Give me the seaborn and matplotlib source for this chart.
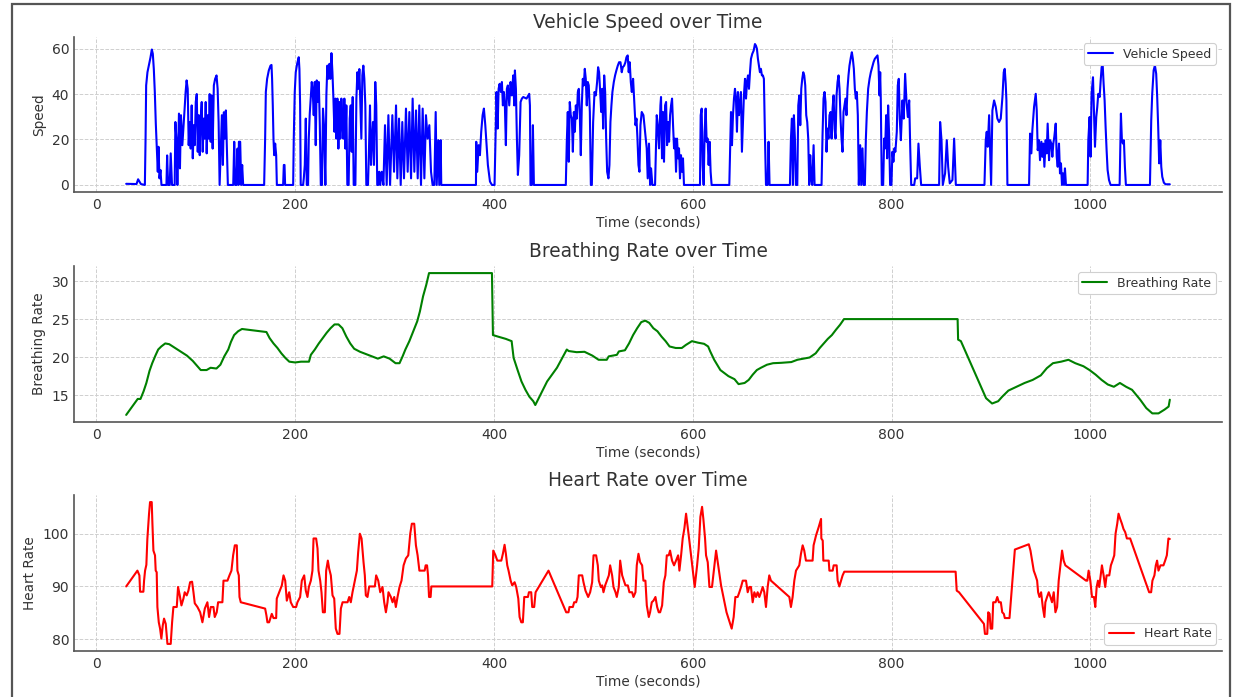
import matplotlib
matplotlib.use("Agg")
import matplotlib.pyplot as plt
from matplotlib.patches import Rectangle
import numpy as np
import seaborn as sns

# (time in seconds, value) samples for each recorded signal
speed_points = [
    (30, 0.5), (40.4, 0.4), (42, 2.5), (44.8, 0.4), (48.8, 0), (49.5, 20.4), (50.1, 43.8), (51.4, 49.6),
    (52.8, 52.5), (54.4, 56), (55.8, 59.6), (56.8, 57.7), (57.8, 51), (58.8, 40.9), (59.8, 27), (60.8, 16),
    (61.8, 5.8), (62.5, 16.8), (63.5, 2.9), (64.5, 6.6), (65.5, 0), (70.5, 0), (71.2, 13), (72.2, 0),
    (73.8, 0), (74.8, 13.9), (76.1, 0), (78.8, 0), (79.5, 27.7), (80.5, 20.4), (81.5, 0), (83.1, 31.4),
    (84.1, 7.3), (85.1, 30.7), (86.5, 17.5), (87.8, 26.3), (88.8, 33.6), (89.8, 40.9), (90.8, 46), (91.9, 42.3),
    (92.9, 17.5), (93.9, 27.7), (94.9, 16), (95.9, 35), (97, 11.7), (98, 26.3), (99, 17.5), (100, 36.5),
    (101, 40), (102, 14.6), (103, 30.7), (104, 13.1), (105, 29.2), (106, 36.5), (107, 14.6), (108, 29.2),
    (109, 20.4), (110, 36.5), (111, 13.9), (112, 30.7), (113, 20.4), (114, 40), (115, 19), (116, 39.4),
    (117, 16), (118.2, 43.8), (119.5, 46.7), (120.9, 48.2), (122, 42.3), (123, 27.7), (124, 0), (125.3, 17.5),
    (126.3, 30.7), (127.3, 8.8), (128.3, 32), (129.3, 20.4), (130.3, 32.8), (131.3, 16), (132.3, 0), (137.7, 0),
    (138.7, 19), (139.7, 0), (141, 0), (142, 16), (143, 0), (143.4, 19), (144.7, 19), (145.7, 0),
    (146.7, 8.8), (147.7, 0), (168.8, 0), (169.8, 20.4), (170.5, 40.9), (171.8, 46.7), (173.5, 50.4), (175.2, 52.5),
    (176.2, 52.8), (176.8, 46.7), (177.5, 35), (178.2, 20.4), (178.9, 13.1), (179.9, 18.2), (180.9, 13.1), (181.6, 0),
    (187.9, 0), (188.6, 8.8), (189.3, 8.8), (189.9, 0), (198, 0), (198.6, 20.4), (199.6, 40.9), (200.6, 49.6),
    (202, 53.3), (203.6, 56.2), (204.3, 51), (205, 35), (205.6, 0), (208, 0), (208.7, 2.9), (209.7, 8.8),
    (210.7, 29.2), (211.7, 0), (213, 0), (213.7, 20.4), (214.7, 31.4), (215.7, 38.7), (216.7, 45.3), (217.7, 40.9),
    (218.7, 30.7), (219.7, 45.3), (220.7, 17.5), (221.7, 46), (222.8, 36.5), (223.8, 45.3), (224.8, 26.3), (225.8, 0),
    (227, 0), (228, 33.6), (229, 26.3), (230.4, 0), (231.4, 39.4), (232.4, 52.5), (233.5, 46.7), (234.5, 53.3),
    (235.5, 46.7), (236.5, 58), (237.5, 49.6), (238.5, 38), (239.5, 23.4), (240.5, 38), (241.5, 20.4), (242.5, 38),
    (243.5, 16), (244.5, 36.5), (245.5, 20.4), (246.5, 38), (247.5, 27.7), (248.5, 20.4), (249.5, 38), (250.5, 16),
    (251.5, 35), (252.5, 0), (253.8, 0), (254.9, 29.2), (255.9, 35), (256.9, 14.6), (257.9, 38.7), (258.9, 0),
    (260.6, 0), (261.6, 38), (262.6, 49.6), (263.6, 42.3), (264.6, 51), (265.6, 35), (266.6, 20.4), (267.6, 48.2),
    (268.6, 52.5), (269.6, 46.7), (270.6, 35), (271.6, 0), (273.3, 0), (274.3, 16), (275.3, 35), (276.3, 8.8),
    (277.3, 20.4), (278.3, 27.7), (279.3, 8.8), (280.6, 45.3), (281.6, 35), (282.6, 0), (283.6, 0), (284.6, 5.8),
    (285.6, 0), (287.1, 5.8), (288.8, 0), (290.4, 26.3), (292.1, 0), (293.8, 30.7), (295.5, 0), (297.8, 30.7),
    (299.5, 5.8), (301.5, 35), (302.8, 2.9), (304.5, 29.2), (306.2, 0), (307.8, 27.7), (309.5, 2.9), (311.5, 33.6),
    (313.2, 5.8), (314.9, 32.1), (316.6, 2.9), (318.2, 38), (319.9, 5.8), (321.6, 32.8), (323.3, 2.9), (324.9, 35),
    (326.6, 0), (328.3, 33.6), (330, 2.9), (331.6, 30.7), (333.3, 20.4), (335, 26.3), (336.7, 5.8), (338.3, 0),
    (340, 0), (341.4, 32.1), (342.4, 0), (344, 19.7), (345, 0), (346.4, 19.7), (347, 0), (381.9, 0),
    (382.2, 19), (383.2, 5.8), (384.6, 17.5), (385.9, 13.1), (387.2, 23.4), (388.6, 30.7), (389.9, 33.6), (391.3, 26.3),
    (392.6, 17.5), (393.9, 8.8), (396, 1.5), (398, 0), (400.6, 0), (401.6, 20.4), (402.6, 40.9), (403.7, 24.8),
    (404.7, 42.3), (405.7, 44.5), (407, 40.9), (408, 45.3), (409, 35), (410, 40.9), (411, 35), (412, 17.5),
    (413, 42.3), (414, 43.8), (415.4, 35), (416.7, 45.3), (418, 39.4), (419.4, 48.2), (420.4, 35), (421.1, 50.4),
    (422.1, 42.3), (423.1, 20.4), (424.1, 4.4), (425.4, 13.1), (426.8, 36.5), (428.1, 38), (429.5, 38.7), (432.8, 38),
    (435.5, 40.1), (436.2, 35), (436.8, 0), (438.2, 0), (439.2, 26.3), (440.2, 0), (472.3, 0), (473.3, 19),
    (474.3, 32.1), (475.3, 10.2), (476.3, 36.5), (477.3, 30.7), (478.4, 29.2), (479.4, 14.6), (480.4, 32.1), (481.4, 23.4),
    (482.4, 35), (483.4, 29.2), (484.4, 40.9), (485.4, 42.3), (486.4, 30.7), (487.4, 13.1), (488.4, 35), (489.4, 46.7),
    (490.4, 43.8), (491.4, 51.1), (492.4, 46.7), (493.4, 35), (494.4, 45.3), (495.4, 43.8), (496.5, 32.1), (497.5, 0),
    (498.5, 0), (499.8, 27.7), (501.2, 40.9), (502.5, 39.4), (503.8, 45.3), (504.8, 51.8), (505.8, 49.6), (506.9, 40.9),
    (507.9, 32.1), (508.9, 42.3), (509.9, 24.8), (510.9, 48.2), (511.9, 40.9), (512.9, 20.4), (513.9, 5.8), (515.2, 2.9),
    (516.2, 8.8), (517.2, 27.7), (518.2, 35), (519.2, 40.9), (520.6, 45.3), (521.9, 48.2), (523.2, 50.4), (524.6, 52.5),
    (525.9, 54), (527.3, 54), (528.6, 49.6), (529.6, 51.8), (531, 52.5), (532.3, 54), (533.3, 56.2), (534.6, 57),
    (535.6, 49.6), (536.6, 54), (537.7, 45.3), (538.7, 40.9), (540, 46.7), (541.4, 35), (542.4, 26.3), (543.4, 29.2),
    (544.4, 20.4), (545.4, 8.8), (546.4, 5.8), (547.4, 26.3), (548.7, 32.1), (550.4, 30.7), (552, 23.4), (553.7, 16.1),
    (554.7, 2.9), (556, 18.2), (557.1, 0), (558.1, 7.3), (559.4, 0), (562.1, 0), (563.8, 30.7), (564.8, 26.3),
    (566.1, 16.1), (567.5, 35), (568.1, 38.7), (569.1, 11.7), (570.1, 32.1), (571.1, 10.2), (572.2, 35), (573.2, 36.5),
    (574.2, 17.5), (575.2, 27.7), (576.2, 19), (577.2, 30.7), (578.2, 35), (579.2, 38), (580.2, 26.3), (581.2, 16.1),
    (582.2, 20.4), (583.2, 5.8), (584.2, 20.4), (585.2, 11.7), (586.2, 16.1), (587.2, 2.9), (588.2, 13.1), (589.2, 5.8),
    (590.2, 11.7), (591.2, 0), (607.3, 0), (608, 30.7), (609, 33.6), (610, 8.8), (611, 0), (612, 23.4),
    (613, 33.6), (614, 19), (615, 20.4), (616, 8.8), (617, 19), (618, 5.8), (619, 0), (636.8, 0),
    (637.8, 19), (638.5, 32.1), (639.5, 17.5), (640.5, 30.7), (641.5, 38), (642.5, 42.3), (643.5, 38), (644.5, 23.4),
    (645.5, 40.9), (646.5, 30.7), (647.5, 35), (648.5, 40.9), (649.5, 14.6), (650.5, 27.7), (651.5, 39.4), (652.6, 46.7),
    (653.6, 38), (654.6, 45.3), (655.6, 48.2), (656.6, 42.3), (657.6, 49.6), (658.6, 55.5), (659.9, 57.7), (661.3, 59.1),
    (662.6, 62), (663.6, 61.3), (664.6, 59.9), (665.6, 55.5), (666.6, 52.5), (667.6, 49.6), (668.6, 51.1), (669.6, 48.2),
    (670.6, 48.2), (671.6, 46.7), (672.7, 20.4), (673.7, 0), (675.3, 0), (676.3, 19), (677.3, 0), (697.8, 0),
    (698.8, 20.4), (699.8, 29.2), (700.8, 0), (701.8, 30.7), (702.8, 20.4), (703.8, 0), (705.2, 0), (706.2, 35),
    (707.2, 39.4), (708.2, 26.3), (709.2, 42.3), (710.2, 46.7), (711.2, 49.6), (712.2, 48.2), (713.2, 43.8), (714.2, 30.7),
    (715.2, 27.7), (716.2, 20.4), (717.2, 0), (718.2, 13.1), (719.2, 2.9), (720.2, 0), (721.6, 17.5), (722.6, 0),
    (729.6, 0), (730.6, 21.9), (731.6, 38), (732.6, 40.9), (733.6, 36.5), (734.6, 14.6), (735.6, 24.8), (736.6, 20.4),
    (737.6, 30.7), (738.7, 32.1), (739.7, 20.4), (740.7, 33.6), (741.7, 39.4), (742.7, 24.8), (743.7, 20.4), (744.7, 39.4),
    (745.7, 45.3), (746.7, 48.2), (747.7, 42.3), (748.7, 29.2), (749.7, 20.4), (750.7, 14.6), (751.7, 32.1), (752.7, 35),
    (753.7, 38), (754.7, 30.7), (755.7, 42.3), (756.7, 48.2), (757.7, 52.5), (759.1, 56.2), (760.1, 58.4), (761.1, 55.5),
    (762.1, 51.1), (763.1, 42.3), (764.1, 38), (765.1, 40.9), (766.1, 30.7), (767.1, 0), (768.5, 17.5), (769.5, 0),
    (770.8, 16.1), (771.8, 0), (773.2, 0), (774.2, 20.4), (775.2, 32.1), (776.5, 42.3), (777.9, 46.7), (779.2, 49.6),
    (780.5, 51.8), (781.9, 54), (783.2, 55.5), (784.5, 56.2), (785.9, 57), (786.9, 52.5), (787.9, 39.4), (788.6, 49.6),
    (789.2, 38), (790.2, 0), (791.6, 0), (792.6, 20.4), (793.6, 16.1), (794.6, 30.7), (795.6, 11.7), (796.6, 35),
    (797.6, 21.9), (798.6, 0), (799.9, 0), (800.9, 14.6), (801.9, 10.2), (802.9, 16.1), (803.9, 14.6), (805.3, 23.4),
    (806.3, 43.8), (807.3, 46.7), (808.3, 29.2), (809.4, 19.7), (811, 37.2), (812.3, 29.2), (813.7, 48.9), (815, 37.2),
    (816.4, 29.9), (817.8, 37.2), (818.8, 16.8), (819.8, 0), (822.8, 0), (823.8, 2.9), (825.8, 2.9), (827.1, 18.2),
    (828.5, 8), (829.8, 0), (847.9, 0), (848.9, 27.7), (850.3, 19.7), (851.6, 0), (853.9, 5.1), (855.6, 19.7),
    (857, 8), (858.6, 0.7), (861.3, 2.2), (863, 20.4), (864.7, 0), (893.5, 0), (894.8, 19.7), (895.8, 23.4),
    (896.8, 16.8), (898.2, 30.7), (899.2, 15.3), (900.2, 0), (901.5, 32.8), (903.2, 37.2), (904.9, 34.3), (906.5, 29.2),
    (908.2, 27.7), (909.9, 29.2), (911.6, 38.7), (912.9, 49.6), (913.9, 51.1), (914.9, 44.5), (915.6, 37.2), (916.6, 0),
    (938.4, 0), (939.4, 22.6), (940.7, 13.9), (941.7, 24.1), (943.4, 34.3), (945.1, 40.1), (946.1, 32.8), (947.1, 15.3),
    (948.4, 19.7), (949.4, 10.9), (950.8, 19), (951.8, 12.4), (952.8, 18.2), (953.8, 8), (955.1, 19.7), (956.1, 13.9),
    (957.1, 27), (958.5, 10.9), (959.5, 19.7), (960.8, 18.2), (961.8, 12.4), (962.8, 18.2), (963.8, 21.2), (965.2, 27),
    (966.2, 12.4), (967.2, 8), (968.5, 18.2), (969.5, 5.1), (970.5, 9.5), (971.5, 0), (972.5, 5.1), (973.5, 0),
    (974.5, 7.3), (975.5, 0), (997.3, 0), (998, 19.7), (999.3, 29.9), (1000.3, 12.4), (1001.3, 40.1), (1002.7, 47.4),
    (1003.7, 31.4), (1004.7, 16.8), (1006, 29.9), (1007, 34.3), (1008, 40.1), (1009.4, 38.7), (1010.4, 45.7), (1011.4, 51.8),
    (1012.4, 53.3), (1013.4, 44.5), (1014.4, 37.2), (1015.4, 25.5), (1016.4, 15.3), (1017.4, 6.6), (1018.8, 2.2), (1020.4, 0),
    (1029.5, 0), (1030.8, 31.4), (1031.8, 19.7), (1032.8, 18.2), (1033.8, 19.7), (1034.8, 8), (1035.8, 0), (1060, 0),
    (1061.3, 28.5), (1062.3, 40.1), (1063.7, 50.4), (1065, 52.6), (1066.3, 48.9), (1067.3, 38.7), (1068.3, 25.5), (1069.3, 9.5),
    (1070.4, 19.7), (1071.4, 8), (1072.4, 3.6), (1074, 1), (1075.7, 0.3), (1080, 0.3),
]

breathing_points = [
    (30, 12.4), (41.6, 14.5), (44.4, 14.5), (47.5, 15.5), (50.3, 16.6), (53.5, 18.2), (56.2, 19.2), (59.4, 20.2),
    (62.2, 21), (65.3, 21.4), (69.3, 21.8), (73.3, 21.7), (79.2, 21.2), (85.1, 20.7), (91.1, 20.2), (97, 19.5),
    (101, 18.9), (105, 18.3), (110.9, 18.3), (114.9, 18.6), (120.8, 18.5), (124.8, 19), (128.7, 20.1), (132.7, 21),
    (135.4, 22), (138.6, 22.9), (142.6, 23.4), (146.5, 23.7), (171.1, 23.3), (174.3, 22.5), (178.2, 21.8), (182.2, 21.2),
    (186.1, 20.5), (190.1, 19.9), (194.1, 19.4), (200, 19.3), (205.9, 19.4), (213.9, 19.4), (215.8, 20.3), (219.8, 21),
    (223.8, 21.8), (227.7, 22.5), (231.7, 23.2), (235.6, 23.8), (239.6, 24.3), (243.6, 24.3), (247.5, 23.8), (251.5, 22.7),
    (255.4, 21.8), (259.4, 21.1), (265.3, 20.7), (271.3, 20.4), (277.2, 20.1), (283.2, 19.8), (289.1, 20.1), (295, 19.8),
    (301, 19.2), (305, 19.2), (308.1, 20.1), (310.9, 21), (314.9, 22.1), (318.8, 23.4), (322.8, 24.7), (325.5, 26),
    (328.7, 28), (331.9, 29.5), (334.7, 31.05), (398, 31.05), (399, 22.9), (404, 22.7), (411.9, 22.4), (417.8, 22.1),
    (419.8, 19.9), (423.8, 18.3), (427.7, 16.8), (431.7, 15.7), (435.6, 14.8), (439.6, 14.2), (441.6, 13.7), (453.5, 16.8),
    (463.4, 18.6), (473.3, 21), (475.2, 20.8), (483.2, 20.65), (491.1, 20.7), (499, 20.2), (505.3, 19.65), (513.5, 19.65),
    (515.5, 20.1), (523.7, 20.3), (525.7, 20.75), (531.8, 20.9), (535.9, 21.8), (540, 22.9), (544.1, 23.8), (548.2, 24.6),
    (552.2, 24.8), (556.3, 24.5), (560.4, 23.8), (564.5, 23.4), (568.6, 22.7), (572.7, 22.1), (576.7, 21.4), (582.9, 21.2),
    (589, 21.2), (593.1, 21.6), (599.2, 22.1), (605.3, 21.9), (611.4, 21.75), (615.5, 21.4), (617.6, 20.75), (621.6, 19.65),
    (627.8, 18.3), (635.9, 17.5), (642, 17.1), (646.1, 16.45), (652.2, 16.6), (656.3, 17), (660.4, 17.7), (664.5, 18.3),
    (668.6, 18.6), (674.7, 19), (680.8, 19.2), (689, 19.25), (699.2, 19.35), (705.3, 19.65), (711.4, 19.8), (717.6, 19.95),
    (723.7, 20.5), (727.8, 21.2), (731.8, 21.8), (735.9, 22.4), (740, 22.9), (744.1, 23.6), (748.2, 24.25), (752.2, 25),
    (866.5, 25), (867, 22.3), (869.8, 22.1), (895.1, 14.6), (901.2, 13.9), (907.3, 14.2), (911.4, 14.8), (917.6, 15.6),
    (925.7, 16.1), (933.9, 16.6), (942, 17), (950.2, 17.6), (956.3, 18.55), (962.4, 19.2), (970.6, 19.4), (978, 19.65),
    (984.9, 19.2), (993.1, 18.8), (999.2, 18.3), (1005.3, 17.7), (1011.4, 17), (1017.6, 16.4), (1023.7, 16.1), (1029.8, 16.6),
    (1036, 16.1), (1042, 15.7), (1050.2, 14.4), (1056.3, 13.3), (1062.4, 12.6), (1068.6, 12.6), (1074.7, 13.1), (1078.8, 13.5),
    (1080, 14.4),
]

heart_points = [
    (30, 90), (41.3, 93), (43.3, 92.1), (44, 89), (47.3, 89), (48, 91.1), (49, 93), (50.3, 94.1),
    (51.3, 99), (53, 103.8), (54, 106), (55.7, 106), (56.4, 101.9), (57.4, 96.8), (59, 95.9), (59.7, 93),
    (60.7, 92.7), (61.4, 86.1), (62.8, 83.2), (64.1, 82), (65.4, 80.1), (66.8, 82.6), (68.1, 83.9), (69.8, 82.9),
    (71.5, 79.1), (74.8, 79.1), (76.2, 83.2), (77.5, 86.1), (80.9, 86.1), (82.2, 89.9), (83.9, 88.3), (85.6, 86.4),
    (87.6, 87.7), (88.9, 88.9), (90.9, 88.3), (92.6, 89.2), (94.3, 90.8), (96.3, 90.9), (97.7, 88.9), (99, 86.8),
    (101.7, 86.1), (104.4, 85.1), (106.7, 83.2), (109.1, 85.8), (111.7, 87), (113.4, 84.2), (115.1, 86.1), (117.8, 86.1),
    (119.1, 84.2), (121.1, 85.1), (122.5, 87), (126.8, 87), (127.9, 91.1), (131.9, 91.1), (133.9, 92.1), (135.9, 93),
    (137.6, 95.9), (139.3, 97.8), (141.3, 97.8), (141.9, 93), (143.3, 92.1), (144, 88), (145.3, 87), (169.8, 85.8),
    (171.1, 84.5), (172.1, 83.2), (173.8, 83.2), (175.5, 84.2), (176.5, 84.8), (178.2, 84), (180.9, 84), (181.5, 87.7),
    (183.9, 88.9), (186.6, 90.2), (188.3, 92.1), (190, 91.1), (191.6, 87.3), (194, 88.9), (195.6, 87), (198, 86.1),
    (201, 86.1), (202.3, 87), (205, 88), (206.7, 91.1), (209.1, 92.1), (210.7, 89.2), (212.4, 88), (213.8, 89.9),
    (215.8, 91.1), (217.4, 93), (218.5, 99.1), (221.1, 99.1), (222.5, 97.2), (223.5, 93), (225.2, 91.1), (226.5, 88.9),
    (227.9, 85.1), (229.9, 85.1), (231.2, 93), (232.9, 94.9), (234.2, 93.4), (235.9, 92.1), (237.6, 88.3), (239.3, 87.7),
    (240.9, 82), (242.6, 81), (244.6, 81), (246, 85.8), (247.7, 87), (252.7, 87), (254.4, 88), (256, 87),
    (257.7, 88.9), (260, 91.1), (262.1, 93), (263.4, 96.5), (265.1, 100), (266.8, 99.1), (268.8, 94.6), (270.1, 92.1),
    (271.1, 88.3), (272.8, 88), (274.5, 90), (280.2, 90), (281.5, 92.1), (283.6, 91.1), (285.6, 88.9), (287.9, 89.9),
    (289.6, 87), (291.3, 85.1), (292.9, 87), (293.9, 88.9), (296.3, 88), (298, 87), (299.7, 88), (301.3, 86.1),
    (303, 88), (305, 89.9), (307, 91.1), (309.1, 94), (311.4, 95.3), (313.8, 95.9), (315.8, 100), (317.4, 101.9),
    (319.8, 101.9), (321.5, 97.8), (323.2, 95.9), (325, 93), (330.3, 93), (331.3, 94), (332.7, 94), (333.7, 92.1),
    (334.7, 88), (336.3, 88), (337, 90), (398.3, 90), (399.3, 96.8), (401.3, 96), (403.4, 94.9), (407.4, 94.9),
    (409, 96.2), (410.7, 97.9), (412, 96.2), (413.4, 94), (414.7, 93), (416.8, 91.1), (418.4, 90.2), (420.8, 90.8),
    (422.4, 89.9), (424.5, 87.7), (425.8, 84.2), (427.5, 83.2), (429.1, 83.2), (430.5, 88), (434.2, 88), (435.2, 88.9),
    (437.5, 88.9), (438.5, 86.1), (440.5, 86.1), (441.9, 88.9), (454.9, 93), (472.7, 85.1), (475, 85.1), (476, 86.1),
    (479.4, 86.1), (480.7, 87), (482.7, 87), (484.1, 88), (485.4, 92.1), (488.8, 92.1), (490.1, 90.8), (492.1, 89.2),
    (494.8, 88), (496.8, 88.9), (498.8, 90.8), (500.2, 95.9), (502.8, 95.9), (504.5, 94), (505.5, 91.1), (507.5, 89.9),
    (508.9, 90.2), (510.2, 88.9), (511.9, 90.2), (513.6, 91.1), (515.6, 92.1), (516.9, 94), (518.9, 92.1), (520.3, 89.9),
    (522.3, 88.9), (523.6, 88), (525.6, 89.9), (527, 94.9), (529, 92.1), (530.7, 91.1), (532.3, 90.2), (534.7, 90.2),
    (536.3, 88.9), (539, 88.9), (540.4, 88), (542.4, 88.9), (543.7, 94), (545.4, 96.2), (547.1, 94.6), (549.1, 94),
    (550.4, 91.1), (552.4, 91.1), (553.8, 86.4), (555.8, 84.2), (557.1, 85.1), (558.8, 87), (560.5, 87.3), (562.5, 88),
    (564.2, 86.1), (565.8, 85.1), (567.2, 85.1), (569.2, 86.4), (570.9, 90.8), (572.5, 92.1), (573.9, 95.9), (575.9, 95.9),
    (577.2, 96.8), (579.2, 94.9), (581.2, 94), (583.2, 94.9), (585.3, 95.9), (586.6, 93), (588.3, 95.9), (589.9, 99.1),
    (591.6, 101), (593.3, 103.8), (596.6, 98.7), (602, 89.9), (604.4, 94), (606, 97.2), (607.7, 103.2), (609.4, 105.1),
    (610.7, 102.8), (612.4, 99.1), (613.4, 95.9), (615.1, 94.6), (616.8, 89.9), (619.4, 89.9), (623.5, 96.8), (628.5, 90.2),
    (634, 85.1), (637.5, 83), (639.2, 82), (641.2, 84.2), (642.9, 88), (645.2, 88), (646.9, 88.9), (648.6, 89.9),
    (650.3, 91.1), (653.6, 91.1), (655.3, 88.9), (656.9, 89.9), (658.6, 89.9), (660.3, 87), (662, 88.9), (663.7, 88),
    (665.3, 88.9), (667, 88), (668.7, 88.9), (670.4, 89.9), (672, 88.9), (673.7, 86.1), (675.4, 89.9), (677, 92.1),
    (678.7, 91.1), (697.2, 88), (698.8, 86.1), (700.5, 88), (702.2, 91.1), (703.9, 93), (707.2, 94), (708.9, 96.2),
    (710.6, 97.8), (712.2, 96.8), (713.9, 94.9), (720.6, 94.9), (721.6, 97.8), (724.1, 99.7), (726.8, 101.3), (729.1, 102.8),
    (729.4, 99.1), (730.8, 98.7), (731.4, 94.9), (736.8, 94.9), (737.5, 93), (740.8, 93), (741.8, 94), (744.8, 94),
    (745.8, 91.1), (747.5, 90), (749.2, 91.1), (750.8, 92.1), (752.5, 92.8), (864.5, 92.8), (865.6, 89.2), (867.9, 88.9),
    (893, 82.9), (894, 81), (896.3, 81), (897.3, 85.1), (898.7, 84.8), (899.7, 82), (901.3, 82), (902.3, 87),
    (904.7, 87), (906.4, 88), (908, 87), (910, 87), (911.4, 85.1), (913, 84.8), (914, 84), (918.7, 84),
    (924.1, 97), (938.1, 98), (939.8, 96.8), (941.5, 94.9), (943.1, 93), (944.8, 92.1), (946.5, 91.1), (947.5, 88.9),
    (948.8, 88), (950.5, 88.9), (952.2, 86.1), (953.8, 84.2), (954.8, 87), (956.5, 88), (958.2, 88.9), (959.9, 88),
    (961.5, 87), (963.2, 88.9), (964.9, 85.1), (966.6, 86.1), (968.2, 91.1), (969.9, 94), (971.6, 96.8), (973.2, 94.9),
    (974.9, 94), (995.7, 91.1), (997, 91.1), (998.3, 93), (1000, 91.1), (1001.7, 88), (1003.7, 88), (1005, 86.1),
    (1006.4, 89.9), (1007.7, 91.1), (1009, 89.9), (1010.4, 92.1), (1011.7, 94), (1013.4, 92.1), (1015, 89.9), (1016.4, 92.1),
    (1019.1, 92.1), (1020.7, 94), (1022.4, 94.9), (1024.1, 95.9), (1025.4, 100), (1027.1, 101.9), (1028.4, 103.8), (1030.1, 102.8),
    (1031.8, 101.9), (1033.4, 100.9), (1035.1, 100.3), (1036.8, 99.1), (1040.1, 99.1), (1059.2, 88.9), (1061.2, 88.9), (1062.5, 91.1),
    (1064.5, 92.1), (1065.9, 94), (1067.2, 94.9), (1068.6, 93), (1070.6, 94), (1073.6, 94), (1075.3, 94.9), (1077, 95.9),
    (1078.6, 99.1), (1080, 99),
]

panel_titles = ["Vehicle Speed over Time", "Breathing Rate over Time", "Heart Rate over Time"]
panel_ylabels = ["Speed", "Breathing Rate", "Heart Rate"]
series_labels = ["Vehicle Speed", "Breathing Rate", "Heart Rate"]
series_colors = ["blue", "green", "red"]
legend_locs = ["upper right", "upper right", "lower right"]
x_label = "Time (seconds)"

sns.set_theme(style="whitegrid")
text_color = "#333333"
plt.rcParams.update({
    "font.family": ["DejaVu Sans"],
    "figure.facecolor": "white",
    "axes.facecolor": "white",
    "axes.edgecolor": "#555555",
    "axes.linewidth": 1.2,
    "axes.labelcolor": text_color,
    "axes.titlecolor": text_color,
    "text.color": text_color,
    "xtick.color": text_color,
    "ytick.color": text_color,
    "xtick.labelsize": 10,
    "ytick.labelsize": 10,
    "axes.labelsize": 9.8,
    "axes.titlesize": 13.4,
    "xtick.major.size": 0,
    "ytick.major.size": 0,
    "xtick.major.pad": 4.5,
    "ytick.major.pad": 3.5,
    "grid.color": "#cfcfcf",
    "grid.linestyle": "--",
    "grid.linewidth": 0.7,
})

W, H = 1233, 697
fig = plt.figure(figsize=(W / 100, H / 100), dpi=100)

# axes rectangles in pixels: (left, top, right, bottom)
boxes = [(74, 37, 1222, 192), (74, 266, 1222, 422), (74, 495, 1222, 651)]
series = [speed_points, breathing_points, heart_points]

for i, (l, t, r, b) in enumerate(boxes):
    ax = fig.add_axes([l / W, 1 - b / H, (r - l) / W, (b - t) / H])
    pts = np.array(series[i], dtype=float)
    sns.lineplot(x=pts[:, 0], y=pts[:, 1], ax=ax, color=series_colors[i],
                 linewidth=1.5, label=series_labels[i], estimator=None, sort=False)
    ax.set_title(panel_titles[i], pad=6.8)
    ax.set_xlabel(x_label, labelpad=2)
    ax.set_ylabel(panel_ylabels[i])
    ax.set_xticks([0, 200, 400, 600, 800, 1000])
    ax.grid(True, axis="both")
    sns.despine(ax=ax)
    leg = ax.legend(loc=legend_locs[i], fontsize=9, frameon=True, fancybox=True,
                    framealpha=1.0, edgecolor="#d0d0d0", borderpad=0.35)
    leg.get_frame().set_linewidth(0.8)

# outer frame around the whole figure
fig.patches.append(Rectangle((11.5 / W, -0.02), (1230 - 11.5) / W, 1.02 - 3.5 / H,
                             transform=fig.transFigure, fill=False,
                             edgecolor="#555555", linewidth=1.6))

fig.savefig("out.png", dpi=100)
